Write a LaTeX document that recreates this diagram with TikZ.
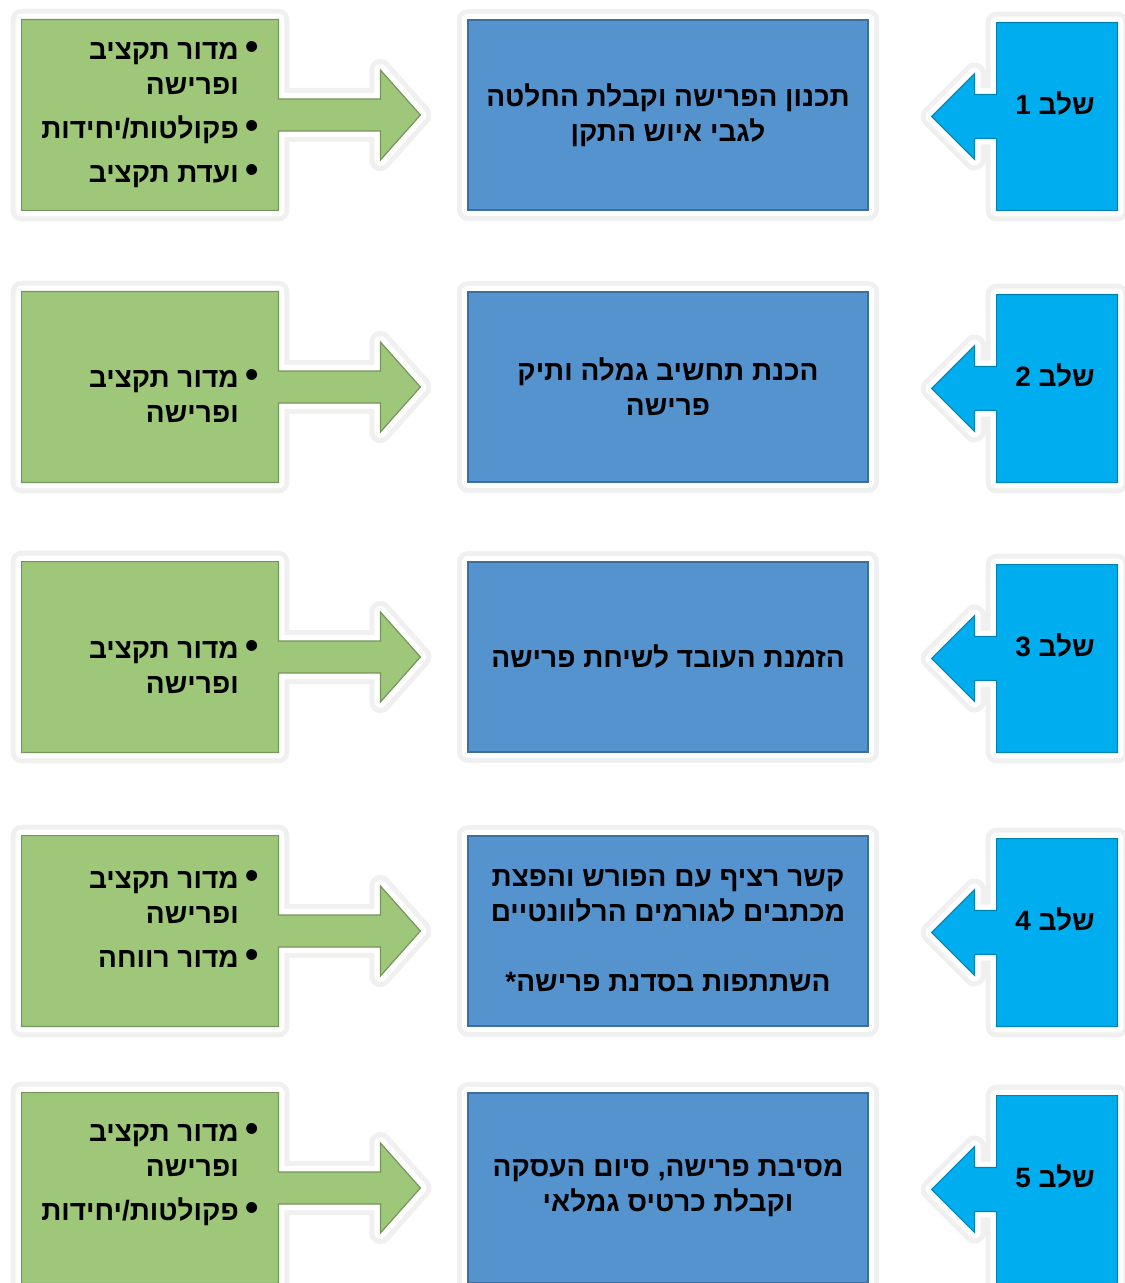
\documentclass[tikz,border=0pt]{standalone}
\usepackage{fontspec}
\newfontfamily\hebfont[Script=Hebrew]{Liberation Sans}
\TeXXeTstate=1
\usetikzlibrary{positioning,calc,backgrounds}
\definecolor{boxgreen}{RGB}{158,199,122}
\definecolor{boxblue}{RGB}{84,147,206}
\definecolor{stagecyan}{RGB}{0,174,239}
\newcommand{\heb}[1]{\beginR #1\endR}
\newcommand{\blt}{{\fontsize{19}{17.5}\selectfont•}\hspace{3.5pt}}

\begin{document}
\begin{tikzpicture}[x=0.5pt,y=-0.5pt,
    every node/.style={font=\hebfont\bfseries\fontsize{14}{17.5}\selectfont,inner sep=0pt},
    callout/.style={fill=#1,draw=#1!75!black,line width=0.6pt,
      preaction={draw=black!6,line width=11pt,line join=round},
      preaction={draw=white,line width=6pt,line join=round}},
    greenbox/.style={minimum width=128pt,minimum height=95pt},
    mainbox/.style={minimum width=200pt,minimum height=95pt,callout=boxblue},
    stagebox/.style={minimum width=60pt,minimum height=93.5pt},
    listtext/.style={align=right,anchor=east},
    maintext/.style={align=center}]
  \useasboundingbox (0,0) rectangle (1124,1283);
  \begin{scope}[on background layer]
    \fill[white] (0,0) rectangle (1124,1283);
  \end{scope}

  \foreach \r/\t in {1/20,2/292,3/562,4/836,5/1093}{
    \node[greenbox] (g\r) at (150,\t+95) {};
    \node[mainbox] (m\r) at (668,\t+95) {};
    \node[stagebox] (s\r) at (1057,\t+96.5) {};
    \node (n\r) at ($(s\r)+(-2,-13)$) {\heb{שלב \r}};
    \begin{scope}[on background layer]
      % green box with arrow to the right
      \path[callout=boxgreen] (g\r.north west) -- (g\r.north east)
        -- ($(g\r.east)+(0,-16)$) -- ++(102,0) -- ++(0,-29) -- ++(40,45)
        -- ++(-40,45) -- ++(0,-29) -- ++(-102,0)
        -- (g\r.south east) -- (g\r.south west) -- cycle;
      % stage box with arrow to the left
      \path[callout=stagecyan] (s\r.north east) -- (s\r.north west)
        -- ($(s\r.west)+(0,-22)$) -- ++(-22,0) -- ++(0,-21) -- ++(-43,43)
        -- ++(43,43) -- ++(0,-21) -- ++(22,0)
        -- (s\r.south west) -- (s\r.south east) -- cycle;
    \end{scope}
  }

  % who is in charge
  \node[listtext] (l1) at ($(g1.east)+(-19,0)$)
    {\heb{\blt מדור תקציב}\\ \heb{\hphantom{\blt}ופרישה}\\[4.5pt]
     \heb{\blt פקולטות/יחידות}\\[4.5pt] \heb{\blt ועדת תקציב}};
  \node[listtext] (l2) at ($(g2.east)+(-19,9)$)
    {\heb{\blt מדור תקציב}\\ \heb{\hphantom{\blt}ופרישה}};
  \node[listtext] (l3) at ($(g3.east)+(-19,10)$)
    {\heb{\blt מדור תקציב}\\ \heb{\hphantom{\blt}ופרישה}};
  \node[listtext] (l4) at ($(g4.east)+(-19,-12)$)
    {\heb{\blt מדור תקציב}\\ \heb{\hphantom{\blt}ופרישה}\\[4.5pt] \heb{\blt מדור רווחה}};
  \node[listtext] (l5) at ($(g5.east)+(-19,-13)$)
    {\heb{\blt מדור תקציב}\\ \heb{\hphantom{\blt}ופרישה}\\[4.5pt] \heb{\blt פקולטות/יחידות}};

  % what is done
  \node[maintext] (t1) at (m1) {\heb{תכנון הפרישה וקבלת החלטה}\\ \heb{לגבי איוש התקן}};
  \node[maintext] (t2) at (m2) {\heb{הכנת תחשיב גמלה ותיק}\\ \heb{פרישה}};
  \node[maintext] (t3) at (m3) {\heb{הזמנת העובד לשיחת פרישה}};
  \node[maintext] (t4) at (m4) {\heb{קשר רציף עם הפורש והפצת}\\ \heb{מכתבים לגורמים הרלוונטיים}\\[17.5pt]
    \heb{השתתפות בסדנת פרישה*}};
  \node[maintext] (t5) at (m5) {\heb{מסיבת פרישה, סיום העסקה}\\ \heb{וקבלת כרטיס גמלאי}};
\end{tikzpicture}
\end{document}
